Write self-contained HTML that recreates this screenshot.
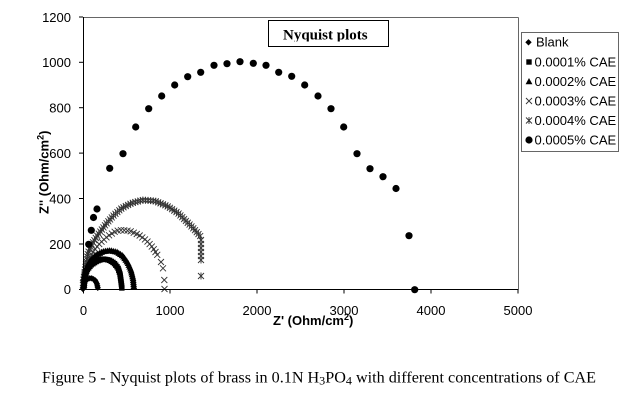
<!DOCTYPE html>
<html><head><meta charset="utf-8">
<style>
html,body{margin:0;padding:0;background:#fff;}
svg{display:block;}
.sans{font-family:"Liberation Sans",Arial,sans-serif;}
.serif{font-family:"Liberation Serif","Times New Roman",serif;}
</style></head><body>
<svg id="s" width="639" height="403" viewBox="0 0 639 403" xmlns="http://www.w3.org/2000/svg">
<rect width="639" height="403" fill="#fff"/>
<defs><clipPath id="tc"><rect x="268" y="20" width="121" height="21.5"/></clipPath></defs>
<line x1="83" y1="17.5" x2="518.5" y2="17.5" stroke="#666" stroke-width="1"/>
<line x1="518.5" y1="17.5" x2="518.5" y2="289.5" stroke="#666" stroke-width="1"/>
<g id="plot"></g>
<line x1="83.5" y1="17" x2="83.5" y2="290" stroke="#000" stroke-width="1"/>
<line x1="83" y1="289.5" x2="518.5" y2="289.5" stroke="#000" stroke-width="1"/>
<g stroke="#000" stroke-width="1">
<line x1="79" y1="289.5" x2="83" y2="289.5"/>
<line x1="79" y1="244" x2="83" y2="244"/>
<line x1="79" y1="198.5" x2="83" y2="198.5"/>
<line x1="79" y1="153.1" x2="83" y2="153.1"/>
<line x1="79" y1="107.7" x2="83" y2="107.7"/>
<line x1="79" y1="62.3" x2="83" y2="62.3"/>
<line x1="79" y1="17" x2="83" y2="17"/>
<line x1="83.5" y1="289" x2="83.5" y2="293.5"/>
<line x1="170" y1="289" x2="170" y2="293.5"/>
<line x1="257" y1="289" x2="257" y2="293.5"/>
<line x1="344" y1="289" x2="344" y2="293.5"/>
<line x1="431" y1="289" x2="431" y2="293.5"/>
<line x1="518" y1="289" x2="518" y2="293.5"/>
</g>
<g class="sans" font-size="13" fill="#000" text-anchor="end">
<text x="71" y="294.2">0</text>
<text x="71" y="248.8">200</text>
<text x="71" y="203.4">400</text>
<text x="71" y="158">600</text>
<text x="71" y="112.6">800</text>
<text x="71" y="67.2">1000</text>
<text x="71" y="21.8">1200</text>
</g>
<g class="sans" font-size="13" fill="#000" text-anchor="middle">
<text x="83.5" y="315">0</text>
<text x="170" y="315">1000</text>
<text x="257" y="315">2000</text>
<text x="344" y="315">3000</text>
<text x="431" y="315">4000</text>
<text x="518" y="315">5000</text>
</g>
<text class="sans" font-size="13" font-weight="bold" x="273" y="325">Z' (Ohm/cm<tspan font-size="9" dy="-5">2</tspan><tspan dy="5">)</tspan></text>
<text class="sans" font-size="13" font-weight="bold" transform="translate(48.5,214) rotate(-90)">Z'' (Ohm/cm<tspan font-size="9" dy="-5">2</tspan><tspan dy="5">)</tspan></text>
<rect x="268.5" y="20.5" width="120" height="26" fill="#fff" stroke="#000" stroke-width="1"/>
<text class="serif" font-size="15" font-weight="bold" x="283" y="39.5" clip-path="url(#tc)">Nyquist plots</text>
<rect x="521.5" y="32.5" width="97" height="119" fill="#fff" stroke="#666" stroke-width="1"/>
<g id="leg"></g>
<g class="sans" font-size="13" fill="#000">
<text x="536" y="46.7">Blank</text>
<text x="534.5" y="66.3">0.0001% CAE</text>
<text x="534.5" y="85.9">0.0002% CAE</text>
<text x="534.5" y="105.5">0.0003% CAE</text>
<text x="534.5" y="125.1">0.0004% CAE</text>
<text x="534.5" y="144.7">0.0005% CAE</text>
</g>
<text class="serif" font-size="16" fill="#000" x="42" y="382.5" textLength="554" lengthAdjust="spacingAndGlyphs">Figure 5 - Nyquist plots of brass in 0.1N H<tspan font-size="12" dy="2">3</tspan><tspan dy="-2">PO</tspan><tspan font-size="12" dy="2">4</tspan><tspan dy="-2"> with different concentrations of CAE</tspan></text>
</svg>
<script>
(function(){
const NS="http://www.w3.org/2000/svg";
let g=document.getElementById('plot');
function el(tag,attrs){const e=document.createElementNS(NS,tag);for(const k in attrs)e.setAttribute(k,attrs[k]);g.appendChild(e);return e;}
function mk(type,x,y){
 switch(type){
 case 'c': el('circle',{cx:x,cy:y,r:3.6,fill:'#000'});break;
 case 's': el('rect',{x:x-2.7,y:y-2.7,width:5.4,height:5.4,fill:'#000'});break;
 case 't': el('polygon',{points:`${x},${y-3.5} ${x+3.4},${y+2.7} ${x-3.4},${y+2.7}`,fill:'#000'});break;
 case 'd': el('polygon',{points:`${x},${y-3.2} ${x+3.2},${y} ${x},${y+3.2} ${x-3.2},${y}`,fill:'#000'});break;
 case 'x': el('path',{d:`M${x-3},${y-3}L${x+3},${y+3}M${x+3},${y-3}L${x-3},${y+3}`,stroke:'#333','stroke-width':0.9,fill:'none'});break;
 case 'a': el('path',{d:`M${x-3},${y-3}L${x+3},${y+3}M${x+3},${y-3}L${x-3},${y+3}M${x},${y-3.5}L${x},${y+3.5}`,stroke:'#333','stroke-width':0.9,fill:'none'});break;
 }
}
function along(pts,step,type){
 mk(type,pts[0][0],pts[0][1]); let carry=0;
 for(let i=1;i<pts.length;i++){
  const x0=pts[i-1][0],y0=pts[i-1][1],x1=pts[i][0],y1=pts[i][1];
  const L=Math.hypot(x1-x0,y1-y0);
  let d=step-carry;
  while(d<=L){ mk(type,x0+(x1-x0)*d/L,y0+(y1-y0)*d/L); d+=step;}
  carry=L-(d-step);
 }
}
along([[83,285],[85,270],[88,253],[92,244],[97,236],[106,224],[114,215],[122,208],[132,203],[143,200],[155,201],[167,206],[178,213],[187,222],[194,229],[201,237]],2.6,'a');
[240,244,248,252,256,260,276].forEach(y=>mk('a',201,y));
along([[83,283],[85,272],[88,262],[93,252],[100,243],[108,236],[116,231],[122,230],[130,231],[139,235],[147,241],[153,248],[158,256]],3.3,'x');
[[161,262],[163,268.3],[164.3,280],[164.5,289]].forEach(p=>mk('x',p[0],p[1]));
along([[84,285],[84,276],[86,268],[90,261],[96,255],[103,251.5],[110,250.5],[117,252],[123,256],[128,263],[131,270],[133,278],[134,288]],2,'t');
along([[84,287],[85,277],[87,270],[91,265],[97,261],[103,259],[109,260],[114,263],[118,268],[120,274],[121,281],[122,289]],2,'s');
along([[83,289],[84,283],[87,279],[91,278],[95,280],[97,284],[98,289]],2,'d');
[[88.7,244.3],[91.3,230.3],[93.5,217.5],[97,209],[109.7,168.3],[123,153.7],[135.7,127],[148.7,108.7],[161.7,96],[174.7,85],[187.7,76.7],[200.7,72.3],[214,65.3],[227,63.7],[240,61.7],[253.3,63.3],[266,65.3],[278.7,72.3],[291.7,76.3],[304.7,85],[318,96],[331,108.7],[343.7,127],[357,153.7],[370,168.7],[383,176.7],[396,188.5],[409,235.7],[414.7,289.7]].forEach(p=>mk('c',p[0],p[1]));
g=document.getElementById('leg');
mk('d',528.5,42.3);mk('s',529,62);mk('t',529,81.5);mk('x',529,101);mk('a',529,120.5);mk('c',529,140);
})();
</script>
</body></html>
